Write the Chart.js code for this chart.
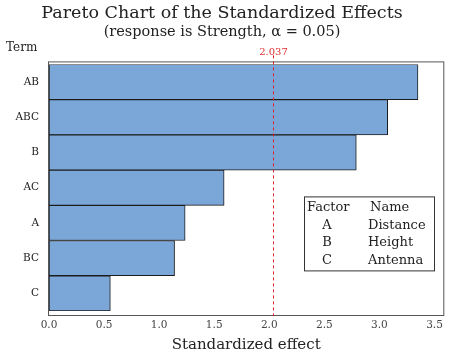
<!DOCTYPE html>
<html>
<head>
<meta charset="utf-8">
<script src="https://cdn.jsdelivr.net/npm/chart.js@4/dist/chart.umd.min.js"></script>
<style>
  html, body { margin: 0; padding: 0; background: #fff; }
  #wrap { width: 451px; height: 361px; }
</style>
</head>
<body>
<div id="wrap"><canvas id="chartCanvas" width="451" height="361"></canvas></div>
<script>
// terms, top to bottom (sorted by effect)
const terms = ['AB', 'ABC', 'B', 'AC', 'A', 'BC', 'C'];
const effects = [3.35, 3.075, 2.79, 1.59, 1.236, 1.14, 0.557];
const critValue = 2.037;
const xTicks = [0, 0.5, 1, 1.5, 2, 2.5, 3, 3.5];
const factorLetters = ['A', 'B', 'C'];
const factorNames = ['Distance', 'Height', 'Antenna'];

const serif = "'DejaVu Serif', 'Liberation Serif', serif";

// frame, reference line, "Term" label and factor table
const extras = {
  id: 'extras',
  afterDatasetsDraw(chart) {
    const ctx = chart.ctx;
    const a = chart.chartArea;
    const x = chart.scales.x;
    ctx.save();
    // plot frame
    ctx.strokeStyle = '#555';
    ctx.lineWidth = 1;
    ctx.strokeRect(a.left - 0.5, a.top - 2.5, a.right - a.left + 1, a.bottom - a.top + 7);

    // critical value line
    const cx = Math.round(x.getPixelForValue(critValue)) + 0.5;
    ctx.strokeStyle = '#e0202a';
    ctx.lineWidth = 1;
    ctx.setLineDash([3, 3]);
    ctx.beginPath();
    ctx.moveTo(cx, a.top - 9);
    ctx.lineTo(cx, a.bottom + 5);
    ctx.stroke();
    ctx.setLineDash([]);
    ctx.fillStyle = '#e02a2a';
    ctx.font = '10px ' + serif;
    ctx.textAlign = 'center';
    ctx.textBaseline = 'middle';
    ctx.fillText(critValue.toFixed(3), cx, a.top - 12);

    // "Term" header
    ctx.fillStyle = '#222';
    ctx.font = '12px ' + serif;
    ctx.textAlign = 'left';
    ctx.fillText('Term', 6, a.top - 17);

    // factor table
    const bx = a.left + 255, by = a.top + 132, bw = 130, bh = 74;
    ctx.fillStyle = '#fff';
    ctx.fillRect(bx, by, bw, bh);
    ctx.strokeStyle = '#333';
    ctx.strokeRect(bx + 0.5, by + 0.5, bw, bh);
    ctx.fillStyle = '#222';
    ctx.font = '13px ' + serif;
    ctx.textAlign = 'left';
    ctx.fillText('Factor', bx + 3, by + 11);
    ctx.fillText('Name', bx + 66, by + 11);
    factorLetters.forEach((f, i) => {
      const ty = by + 29 + i * 17.7;
      ctx.textAlign = 'center';
      ctx.fillText(f, bx + 23, ty);
      ctx.textAlign = 'left';
      ctx.fillText(factorNames[i], bx + 64, ty);
    });
    ctx.restore();
  }
};

new Chart(document.getElementById('chartCanvas').getContext('2d'), {
  type: 'bar',
  data: {
    labels: terms,
    datasets: [{
      label: 'Standardized effect',
      data: effects,
      backgroundColor: '#7ba6d8',
      borderColor: '#1c1c1c',
      borderWidth: 1,
      borderSkipped: false,
      barPercentage: 1,
      categoryPercentage: 1
    }]
  },
  plugins: [extras],
  options: {
    indexAxis: 'y',
    responsive: false,
    animation: false,
    layout: { padding: { left: 0, right: 7, top: 0, bottom: 0 } },
    scales: {
      x: {
        type: 'linear',
        min: 0,
        max: 3.58,
        afterBuildTicks: (scale) => { scale.ticks = xTicks.map(v => ({ value: v })); },
        afterFit: (scale) => { scale.height = 50; },
        ticks: {
          color: '#444',
          font: { family: serif, size: 10.5 },
          padding: 8,
          callback: (v) => Number(v).toFixed(1)
        },
        grid: { display: false, drawTicks: false },
        border: { display: false },
        title: {
          display: true,
          text: 'Standardized effect',
          color: '#222',
          font: { family: serif, size: 15 },
          padding: { top: 4, bottom: 7 }
        }
      },
      y: {
        afterFit: (scale) => { scale.width = 49; },
        ticks: {
          color: '#222',
          font: { family: serif, size: 10.5 },
          padding: 10
        },
        grid: { display: false, drawTicks: false },
        border: { display: false }
      }
    },
    plugins: {
      legend: { display: false },
      tooltip: { enabled: false },
      title: {
        display: true,
        text: 'Pareto Chart of the Standardized Effects',
        color: '#222',
        font: { family: serif, size: 17.5, weight: 'normal', lineHeight: 1.2 },
        padding: { top: 3, bottom: 0 }
      },
      subtitle: {
        display: true,
        text: '(response is Strength, \u03b1 = 0.05)',
        color: '#222',
        font: { family: serif, size: 14.5, lineHeight: 1.2 },
        padding: { top: 0, bottom: 23 }
      }
    }
  }
});
</script>
</body>
</html>
